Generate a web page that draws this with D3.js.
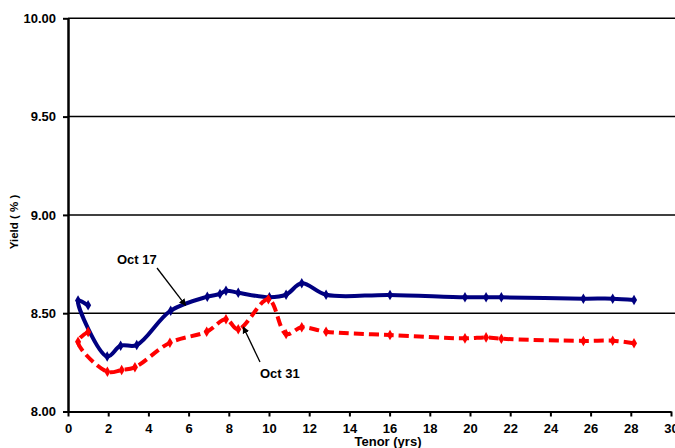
<!DOCTYPE html>
<html>
<head>
<meta charset="utf-8">
<script src="https://cdn.jsdelivr.net/npm/d3@7"></script>
<style>
  body { margin: 0; background: #fff; }
  svg { display: block; font-family: "Liberation Sans", Arial, sans-serif; font-weight: bold; }
</style>
</head>
<body>
<svg id="chart" width="675" height="448"></svg>
<script>
// données (tenor en années, rendement en %)
let tenors17 = [1.0, 0.5, 1.95, 2.62, 3.42, 5.11, 6.93, 7.56, 7.86, 8.47, 10.02, 10.85, 11.63, 12.84, 16.02, 19.75, 20.8, 21.56, 25.64, 27.1, 28.16];
let yields17 = [8.54, 8.565, 8.28, 8.335, 8.338, 8.513, 8.584, 8.598, 8.614, 8.604, 8.581, 8.594, 8.652, 8.594, 8.593, 8.581, 8.581, 8.581, 8.574, 8.574, 8.567];

let tenors31 = [1.0, 0.5, 1.96, 2.67, 3.33, 5.07, 6.9, 7.86, 8.47, 9.97, 10.85, 11.63, 12.84, 16.02, 19.75, 20.8, 21.56, 25.64, 27.1, 28.16];
let yields31 = [8.405, 8.355, 8.202, 8.211, 8.225, 8.35, 8.406, 8.469, 8.418, 8.571, 8.394, 8.428, 8.406, 8.389, 8.372, 8.377, 8.37, 8.359, 8.36, 8.347];

let xTicks = d3.range(0, 31, 2);
let yTicks = [8.0, 8.5, 9.0, 9.5, 10.0];

// annotations : libellé + pointe de flèche (en coordonnées des données)
let labels = ["Oct 17", "Oct 31"];
let arrowTips = [[5.85, 8.54], [8.72, 8.43]];

let svg = d3.select("#chart");

let x = d3.scaleLinear().domain([0, 30]).range([68, 671]);
let y = d3.scaleLinear().domain([8, 10]).range([411.5, 18.3]);

// marqueur de flèche
svg.append("defs").append("marker")
  .attr("id", "arrow")
  .attr("viewBox", "0 0 10 10")
  .attr("refX", 9).attr("refY", 5)
  .attr("markerWidth", 7).attr("markerHeight", 7)
  .attr("markerUnits", "userSpaceOnUse")
  .attr("orient", "auto")
  .append("path").attr("d", "M0,0L10,5L0,10Z").attr("fill", "#000");

// lignes de grille
svg.append("g").selectAll("line")
  .data(yTicks.slice(1))
  .enter().append("line")
  .attr("x1", x(0)).attr("x2", 675)
  .attr("y1", d => y(d)).attr("y2", d => y(d))
  .attr("stroke", "#000").attr("stroke-width", 1.5);

// axes
let xAxis = svg.append("g")
  .attr("transform", "translate(0," + y(8) + ")")
  .call(d3.axisBottom(x).tickValues(xTicks).tickSize(5).tickSizeOuter(0).tickFormat(d3.format("d")));
xAxis.select(".domain").attr("stroke-width", 2);
xAxis.selectAll("line").attr("stroke-width", 2);
xAxis.selectAll("text").attr("font-size", 13).attr("font-family", null).attr("dy", "1.05em").attr("fill", "#000");

let yAxis = svg.append("g")
  .attr("transform", "translate(" + x(0) + ",0)")
  .call(d3.axisLeft(y).tickValues(yTicks).tickSize(5).tickSizeOuter(0).tickFormat(d3.format(".2f")));
yAxis.select(".domain").attr("stroke-width", 2.5);
yAxis.selectAll("line").attr("stroke-width", 2);
yAxis.selectAll("text").attr("font-size", 13).attr("font-family", null).attr("x", -12).attr("fill", "#000");
svg.selectAll(".tick text").attr("font-weight", "bold");

// séries
let series = [
  { name: "Oct 17", xs: tenors17, ys: yields17, color: "#000080", dash: null },
  { name: "Oct 31", xs: tenors31, ys: yields31, color: "#FF0000", dash: "10,5" }
];

let line = d3.line()
  .x(d => x(d[0]))
  .y(d => y(d[1]))
  .curve(d3.curveCatmullRom.alpha(0.5));

for (let s of series) {
  let pts = s.xs.map((t, i) => [t, s.ys[i]]);
  svg.append("path")
    .datum(pts)
    .attr("d", line)
    .attr("fill", "none")
    .attr("stroke", s.color)
    .attr("stroke-width", 4)
    .attr("stroke-dasharray", s.dash);
  svg.append("g").selectAll("path")
    .data(pts)
    .enter().append("path")
    .attr("d", d3.symbol().type(d3.symbolDiamond).size(32))
    .attr("transform", d => "translate(" + x(d[0]) + "," + y(d[1]) + ")")
    .attr("fill", s.color);
}

// annotations
let labelPos = [[117, 264], [260, 378]];
let arrowStarts = [[157, 268], [260, 362]];
for (let i = 0; i < labels.length; i++) {
  svg.append("text")
    .attr("x", labelPos[i][0]).attr("y", labelPos[i][1])
    .attr("font-size", 13)
    .text(labels[i]);
  svg.append("line")
    .attr("x1", arrowStarts[i][0]).attr("y1", arrowStarts[i][1])
    .attr("x2", x(arrowTips[i][0])).attr("y2", y(arrowTips[i][1]))
    .attr("stroke", "#000").attr("stroke-width", 1.3)
    .attr("marker-end", "url(#arrow)");
}

// titres des axes
svg.append("text")
  .attr("x", 388).attr("y", 446)
  .attr("text-anchor", "middle")
  .attr("font-size", 13)
  .text("Tenor (yrs)");

svg.append("text")
  .attr("transform", "translate(18,222) rotate(-90)")
  .attr("text-anchor", "middle")
  .attr("font-size", 11.5)
  .text("Yield ( % )");
</script>
</body>
</html>
